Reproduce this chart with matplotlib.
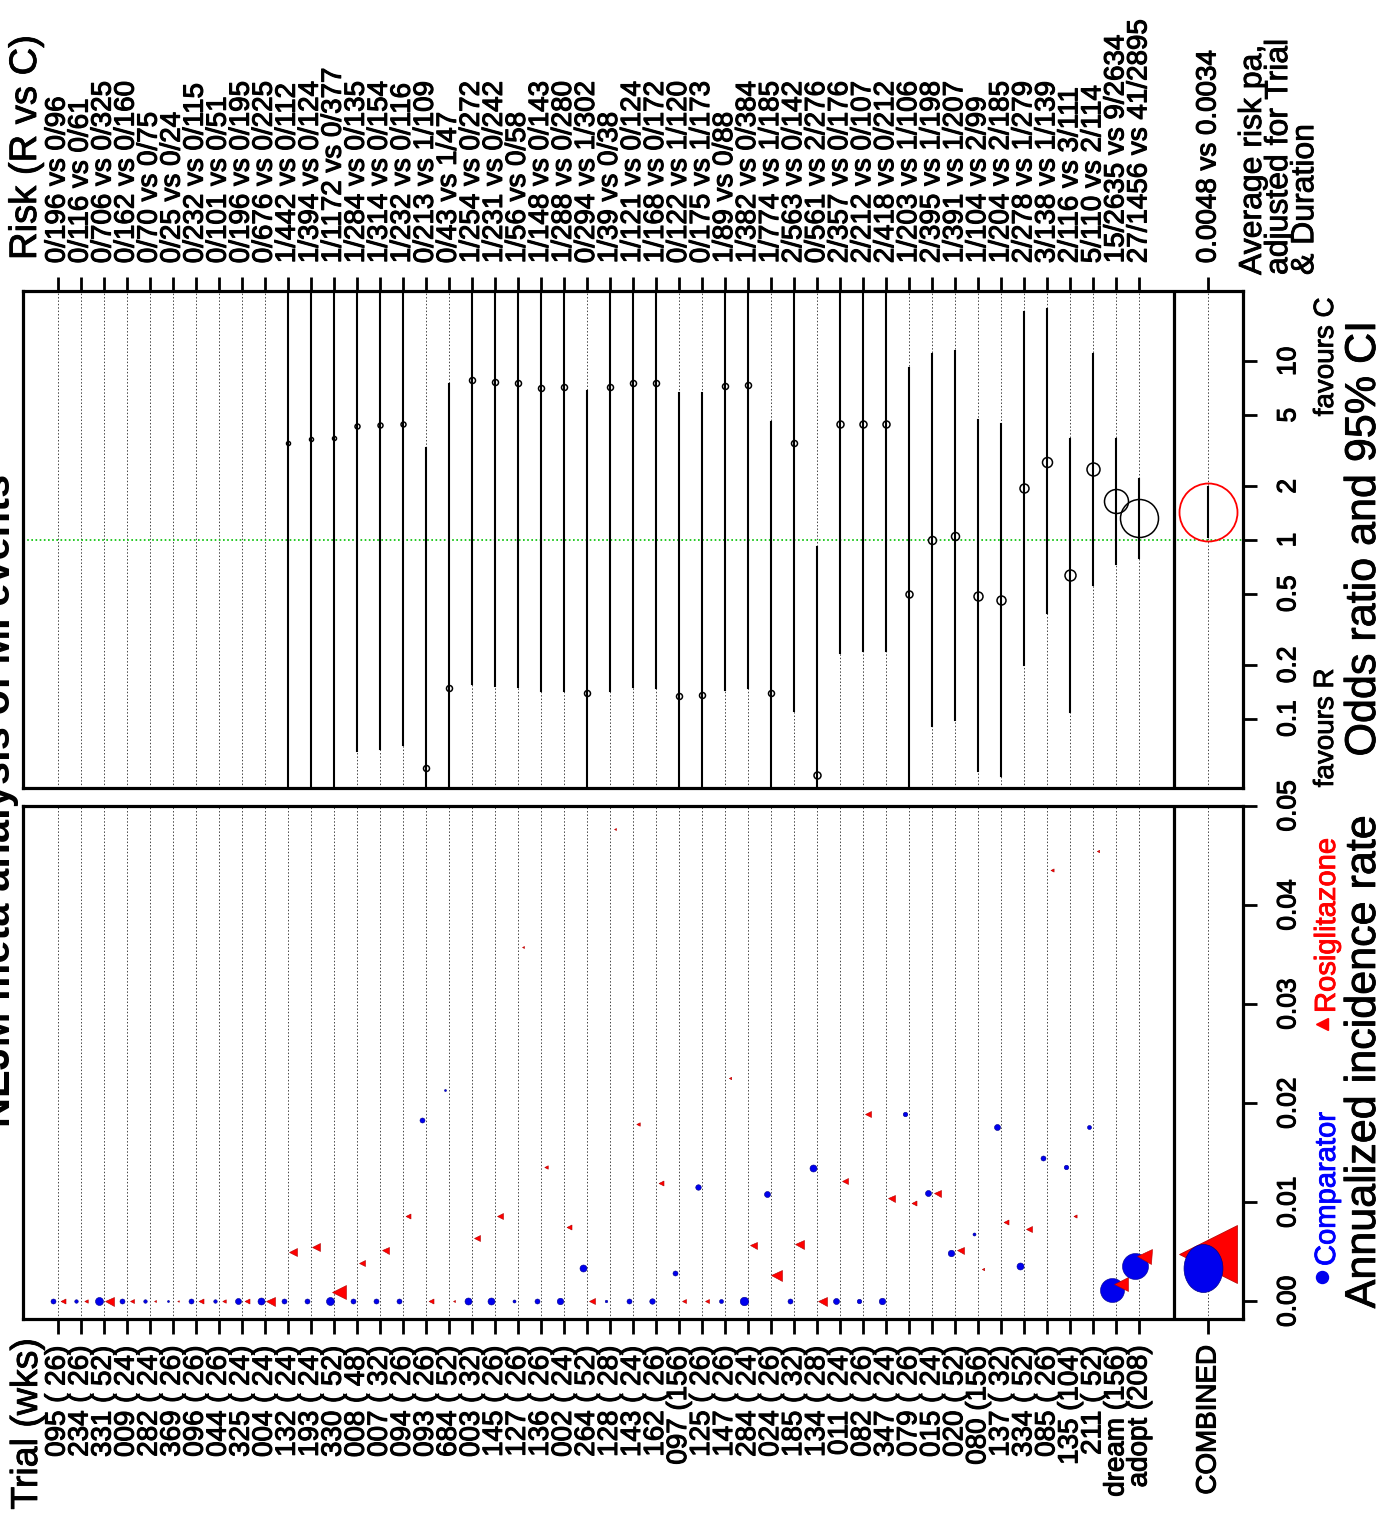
import numpy as np
import matplotlib
matplotlib.use("Agg")
import matplotlib.pyplot as plt
import matplotlib.patheffects as pe
from matplotlib.markers import MarkerStyle
from matplotlib.transforms import Affine2D

plt.rcParams['font.family'] = ['Liberation Sans', 'DejaVu Sans']

nan = np.nan

# ---- data ----
trials = ["095", "234", "331", "009", "282", "369", "096", "044", "325", "004",
          "132", "193", "330", "008", "007", "094", "093", "684", "003", "145",
          "127", "136", "002", "264", "128", "143", "162", "097", "125", "147",
          "284", "024", "185", "134", "011", "082", "347", "079", "015", "020",
          "080", "137", "334", "085", "135", "211", "dream", "adopt"]
weeks = [26, 26, 52, 24, 24, 26, 26, 26, 24, 24,
         24, 24, 52, 48, 32, 26, 26, 52, 32, 26,
         26, 26, 24, 52, 28, 24, 26, 156, 26, 26,
         24, 26, 32, 28, 24, 26, 24, 26, 24, 52,
         156, 32, 52, 26, 104, 52, 156, 208]
risk = ["0/196 vs 0/96", "0/116 vs 0/61", "0/706 vs 0/325", "0/162 vs 0/160",
        "0/70 vs 0/75", "0/25 vs 0/24", "0/232 vs 0/115", "0/101 vs 0/51",
        "0/196 vs 0/195", "0/676 vs 0/225", "1/442 vs 0/112", "1/394 vs 0/124",
        "1/1172 vs 0/377", "1/284 vs 0/135", "1/314 vs 0/154", "1/232 vs 0/116",
        "0/213 vs 1/109", "0/43 vs 1/47", "1/254 vs 0/272", "1/231 vs 0/242",
        "1/56 vs 0/58", "1/148 vs 0/143", "1/288 vs 0/280", "0/294 vs 1/302",
        "1/39 vs 0/38", "1/121 vs 0/124", "1/168 vs 0/172", "0/122 vs 1/120",
        "0/175 vs 1/173", "1/89 vs 0/88", "1/382 vs 0/384", "1/774 vs 1/185",
        "2/563 vs 0/142", "0/561 vs 2/276", "2/357 vs 0/176", "2/212 vs 0/107",
        "2/418 vs 0/212", "1/203 vs 1/106", "2/395 vs 1/198", "1/391 vs 1/207",
        "1/104 vs 2/99", "1/204 vs 2/185", "2/278 vs 1/279", "3/138 vs 1/139",
        "2/116 vs 3/111", "5/110 vs 2/114", "15/2635 vs 9/2634", "27/1456 vs 41/2895"]
combined_risk = "0.0048 vs 0.0034"

# odds ratios and 95% CI (1000 / 0.001 = interval runs off the axis)
or_est = [nan] * 10 + [3.49, 3.70, 3.72, 4.34, 4.42, 4.45, 0.053, 0.148, 7.87, 7.70,
                       7.60, 7.10, 7.16, 0.140, 7.16, 7.54, 7.54, 0.134, 0.135, 7.25,
                       7.35, 0.140, 3.49, 0.0485, 4.44, 4.49, 4.49, 0.50, 1.00, 1.06,
                       0.487, 0.463, 1.95, 2.75, 0.638, 2.49, 1.66, 1.33]
or_lo = [nan] * 10 + [0.001, 0.001, 0.001, 0.066, 0.068, 0.071, 0.001, 0.001, 0.156, 0.153,
                      0.150, 0.142, 0.143, 0.001, 0.143, 0.150, 0.149, 0.001, 0.001, 0.145,
                      0.148, 0.001, 0.111, 0.001, 0.234, 0.238, 0.238, 0.001, 0.091, 0.098,
                      0.051, 0.048, 0.201, 0.39, 0.109, 0.561, 0.732, 0.797]
or_hi = [nan] * 10 + [1000, 1000, 1000, 1000, 1000, 1000, 3.26, 7.47, 1000, 1000,
                      1000, 1000, 1000, 6.86, 1000, 1000, 1000, 6.63, 6.66, 1000,
                      1000, 4.59, 1000, 0.91, 1000, 1000, 1000, 9.18, 10.99, 11.37,
                      4.69, 4.44, 18.8, 19.7, 3.69, 11.04, 3.67, 2.19]
or_rad = [0] * 10 + [2, 2, 2, 2.5, 2.5, 2.5, 3, 3, 3, 3,
                     3, 3, 3, 3, 3, 3, 3, 3, 3, 3,
                     3, 3, 3, 3.5, 3.5, 3.5, 3.5, 3.5, 4, 4,
                     4.5, 4.5, 4.5, 5, 5.5, 6.5, 12, 19]
comb_or, comb_lo, comb_hi, comb_rad = 1.43, 1.035, 1.99, 29

# annualized incidence rates
rate_comp = [0, 0, 0, 0, 0, 0, 0, 0, 0, 0,
             0, 0, 0, 0, 0, 0, 0.01836, 0.02133, 0, 0,
             0, 0, 0, 0.00334, 0, 0, 0, 0.00283, 0.0116, 0,
             0, 0.01085, 0, 0.01348, 0, 0, 0, 0.0189, 0.01099, 0.00488,
             0.00679, 0.01761, 0.00362, 0.01444, 0.01355, 0.01761, 0.00119, 0.00358]
rate_rosi = [0, 0, 0, 0, 0, 0, 0, 0, 0, 0,
             0.00495, 0.00553, 0.00096, 0.00389, 0.00522, 0.00867, 0, 0, 0.00645, 0.00867,
             0.03573, 0.01355, 0.00754, 0, 0.04765, 0.01795, 0.01195, 0, 0, 0.02253,
             0.00573, 0.00266, 0.00584, 0, 0.01218, 0.0189, 0.01041, 0.00993, 0.01099, 0.00515,
             0.00324, 0.00802, 0.00727, 0.04352, 0.00863, 0.0455, 0.00181, 0.00454]
size_comp = [5, 3.5, 8, 5, 3.5, 2, 5, 3.5, 6, 7,
             5, 5, 8, 5, 5, 5, 5, 2, 7, 7,
             3, 5, 6.5, 7, 2.5, 5, 5.5, 5, 5.5, 4,
             8.5, 6, 5, 7, 6, 4.5, 6.5, 4.5, 6, 6.5,
             3, 6, 7, 5, 4.5, 4, 24, 26]
size_rosi = [5, 3.5, 9, 4, 2, 1.6, 5, 3.5, 5, 9,
             8, 8, 14, 6.5, 7, 5, 5, 2, 6, 5.5,
             2, 3.5, 5, 6.5, 2, 3.5, 5, 4, 4, 2.4,
             7, 11, 9, 9, 6.5, 5.5, 7, 5, 7, 7,
             2.4, 5, 6.5, 3.2, 3.2, 2.4, 14, 15]
comb_comp, comb_rosi = 0.0034, 0.0048
comb_size_comp, comb_size_rosi = 48, 58

# ---- layout (pixels of the 1390 x 1517 image) ----
W, H = 1390, 1517
PT = 0.72  # points per pixel at dpi 100


def heavy(color='black', w=0.8):
    return [pe.withStroke(linewidth=w, foreground=color)]


fig = plt.figure(figsize=(W / 100, H / 100), dpi=100)


def box(left, top, right, bottom):
    return [left / W, 1 - bottom / H, (right - left) / W, (bottom - top) / H]


ax_or = fig.add_axes(box(23, 291, 1243, 788))
ax_ir = fig.add_axes(box(23, 806, 1243, 1319))

n = len(trials)
pos = np.arange(1, n + 1)
comb_pos = n + 3
all_pos = list(pos) + [comb_pos]

for ax in (ax_or, ax_ir):
    ax.set_xlim(-0.5, 52.5)
    for s in ax.spines.values():
        s.set_linewidth(2.3)
    for p in all_pos:
        ax.axvline(p, color='#444444', lw=0.7, ls=(0, (1.5, 2)), zorder=0)
    ax.axvline(n + 1.5, color='black', lw=2.3, zorder=3)
    ax.yaxis.tick_right()
    ax.tick_params(axis='y', direction='out', length=10, width=2, labelsize=19, pad=14)

# ---- odds ratio panel ----
ax_or.set_yscale('log')
ax_or.set_ylim(10 ** -1.388, 10 ** 1.394)
ax_or.axhline(1, color='#00c000', lw=1.2, ls=(0, (1, 1.5)), zorder=1)
for p, est, lo, hi, r in zip(pos, or_est, or_lo, or_hi, or_rad):
    if np.isnan(est):
        continue
    ax_or.plot([p, p], [lo, hi], color='black', lw=1.5, zorder=2)
    ax_or.plot(p, est, 'o', ms=2 * r * PT, mfc='none', mec='black', mew=1.1, zorder=4)
ax_or.plot([comb_pos, comb_pos], [comb_lo, comb_hi], color='black', lw=1.5, zorder=2)
ax_or.plot(comb_pos, comb_or, 'o', ms=2 * comb_rad * PT, mfc='none', mec='red', mew=1.3, zorder=4)

ax_or.set_yticks([0.1, 0.2, 0.5, 1, 2, 5, 10])
ax_or.set_yticklabels(["0.1", "0.2", "0.5", "1", "2", "5", "10"], rotation=90, va='center')
ax_or.yaxis.set_minor_locator(matplotlib.ticker.NullLocator())
ax_or.set_xticks(all_pos)
ax_or.set_xticklabels(risk + [combined_risk], rotation=90, fontsize=20)
ax_or.get_xticklabels()[-1].set_fontsize(22)
ax_or.tick_params(axis='x', top=True, labeltop=True, bottom=False, labelbottom=False,
                  direction='out', length=10, width=2, pad=10)

# ---- incidence panel ----
ax_ir.set_ylim(-0.00177, 0.05)
off_c, off_r = -0.18, 0.22
for p, rc, rr, sc, sr in zip(pos, rate_comp, rate_rosi, size_comp, size_rosi):
    ax_ir.plot(p + off_c, rc, 'o', ms=sc * PT, color='#0000ee', mec='#00008b', mew=0.4, zorder=4)
    ax_ir.plot(p + off_r, rr, '<', ms=sr * PT, color='#ff0000', mec='#b00000', mew=0.4, zorder=4)
ax_ir.plot(comb_pos, comb_rosi, '<', ms=comb_size_rosi * PT, color='#ff0000',
           mec='#b00000', mew=0.5, zorder=4)
oval = MarkerStyle('o', transform=Affine2D().scale(0.81, 1.0))
ax_ir.plot(comb_pos - 0.25, comb_comp, marker=oval, ls='none', ms=comb_size_comp * PT,
           color='#0000ee', mec='#00008b', mew=0.5, zorder=5)

ax_ir.set_yticks([0, 0.01, 0.02, 0.03, 0.04, 0.05])
ax_ir.set_yticklabels(["0.00", "0.01", "0.02", "0.03", "0.04", "0.05"], rotation=90, va='center')
ax_ir.set_xticks(all_pos)
ax_ir.set_xticklabels([f"{t} ({w:3d})" for t, w in zip(trials, weeks)] + ["COMBINED"],
                      rotation=90, fontsize=20)
ax_ir.tick_params(axis='x', bottom=True, labelbottom=True, top=False, labeltop=False,
                  direction='out', length=11, width=2, pad=8)

for ax in (ax_or, ax_ir):
    for lab in ax.get_xticklabels() + ax.get_yticklabels():
        lab.set_path_effects(heavy())

# ---- annotations in pixel space ----
ov = fig.add_axes([0, 0, 1, 1])
ov.set_xlim(0, W)
ov.set_ylim(H, 0)
ov.axis('off')
ov.patch.set_alpha(0)

kw = dict(rotation=90, rotation_mode='anchor')
ov.text(10, 800, "NEJM meta analysis of MI events", ha='center', va='baseline',
        fontsize=30, fontweight='bold', **kw)
ov.text(26, 260, "Risk (R vs C)", ha='left', va='center', fontsize=27.5,
        path_effects=heavy(w=0.6), **kw)
ov.text(27, 1338, "Trial (wks)", ha='right', va='center', fontsize=27,
        path_effects=heavy(w=0.6), **kw)
ov.text(1238, 275, "Average risk pa,\nadjusted for Trial\n& Duration", ha='left', va='top',
        fontsize=23, linespacing=0.83, path_effects=heavy(w=0.6), **kw)
ov.text(1326, 357, "favours C", ha='center', va='center', fontsize=20,
        path_effects=heavy(w=0.6), **kw)
ov.text(1326, 728, "favours R", ha='center', va='center', fontsize=20,
        path_effects=heavy(w=0.6), **kw)
ov.text(1364, 539, "Odds ratio and 95% CI", ha='center', va='center', fontsize=31,
        path_effects=heavy(w=0.6), **kw)
ov.text(1364, 1062, "Annualized incidence rate", ha='center', va='center', fontsize=31,
        path_effects=heavy(w=0.6), **kw)
ov.plot(1322, 1277, 'o', ms=12 * PT, color='#0000ee')
ov.text(1327, 1266, "Comparator", ha='left', va='center', fontsize=21, color='#0000ff',
        path_effects=heavy('#0000ff', 0.6), **kw)
ov.plot(1322, 1024, '<', ms=12 * PT, color='#ff0000')
ov.text(1327, 1013, "Rosiglitazone", ha='left', va='center', fontsize=21, color='#ff0000',
        path_effects=heavy('#ff0000', 0.6), **kw)

fig.savefig("out.png", dpi=100)
